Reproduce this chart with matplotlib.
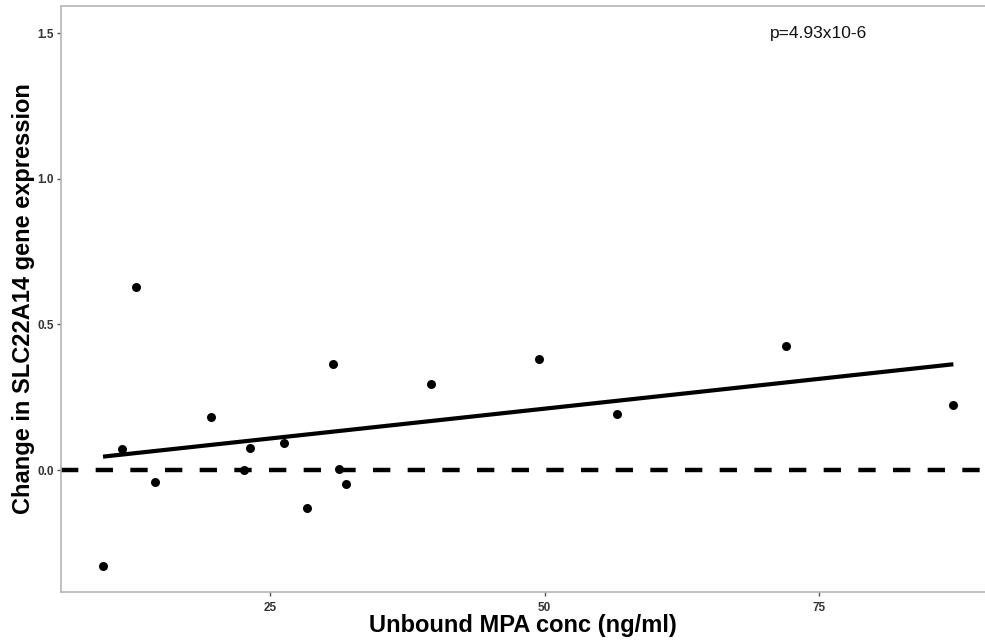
import matplotlib
matplotlib.use("Agg")
import matplotlib.pyplot as plt
import numpy as np

plt.rcParams['font.family'] = ['Liberation Sans', 'DejaVu Sans']

# Data
mpa_conc = [9.8, 11.5, 12.8, 14.5, 19.65, 22.6, 23.2, 26.3, 28.35, 30.7,
            31.25, 31.95, 39.65, 49.5, 56.6, 72.0, 87.2]
expr_change = [-0.330, 0.071, 0.629, -0.041, 0.182, 0.001, 0.076, 0.094, -0.132,
               0.364, 0.003, -0.047, 0.296, 0.380, 0.192, 0.427, 0.223]
fit_intercept = 0.0058
fit_slope = 0.0041
p_label = "p=4.93x10-6"
x_ticks = [25, 50, 75]
y_ticks = [0.0, 0.5, 1.0, 1.5]

fig = plt.figure(figsize=(9.85, 6.42), dpi=100)
ax = fig.add_axes([61/985, 50/642, 1 - 61/985, 586/642])

ax.axhline(0, color='black', lw=3.2, linestyle=(0, (3.9, 3.9)), zorder=2)

xs = np.array([min(mpa_conc), max(mpa_conc)])
ax.plot(xs, fit_intercept + fit_slope * xs, color='black', lw=3,
        solid_capstyle='butt', zorder=3)

ax.scatter(mpa_conc, expr_change, s=42, color='black', zorder=4, linewidths=0)

ax.text(74.9, 1.5, p_label, ha='center', va='center', fontsize=12.5, color='#111111')

ax.set_xlim(5.976, 90.08)
ax.set_ylim(-0.419, 1.594)
ax.set_xticks(x_ticks)
ax.set_xticklabels([str(t) for t in x_ticks])
ax.set_yticks(y_ticks)
ax.set_yticklabels([f"{t:.1f}" for t in y_ticks])

for lab in ax.get_xticklabels() + ax.get_yticklabels():
    lab.set_fontweight('bold')
    lab.set_fontsize(8.5)
    lab.set_color('#333333')
ax.tick_params(length=3, width=1, color='#555555')
ax.tick_params(axis='x', pad=4)
ax.tick_params(axis='y', pad=2)

for side in ['left', 'top', 'bottom']:
    ax.spines[side].set_color('#b5b5b5')
    ax.spines[side].set_linewidth(1.2)
ax.spines['right'].set_visible(False)

ax.set_xlabel("Unbound MPA conc (ng/ml)", fontsize=17, fontweight='bold', labelpad=0)
ax.set_ylabel("Change in SLC22A14 gene expression", fontsize=17, fontweight='bold', labelpad=2)

fig.savefig("out.png", dpi=100)
